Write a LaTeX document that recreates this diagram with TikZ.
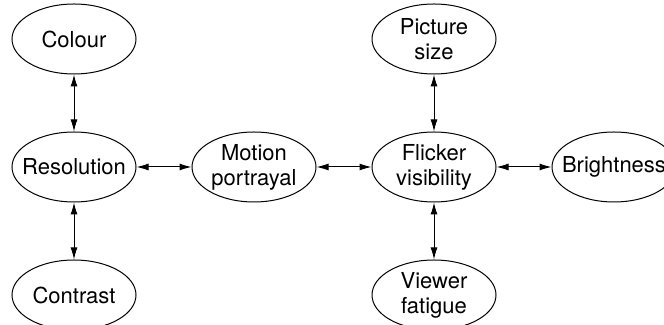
\documentclass[tikz,border=0pt]{standalone}
\usepackage{fontspec}
\setmainfont{TeX Gyre Heros}
\usepackage{tikz}
\usetikzlibrary{arrows.meta, positioning, shapes.geometric}
\tikzset{%
	factor/.style={draw, ellipse, minimum width=62pt, minimum height=35pt, inner xsep=-5pt, inner ysep=0pt,%
		align=center, line width=0.5pt, font=\fontsize{11}{12.5}\selectfont},
	link/.style={{Latex[length=6pt,width=3.5pt]}-{Latex[length=6pt,width=3.5pt]}, line width=0.5pt}
}

\begin{document}
\begin{tikzpicture}[node distance=28.5pt and 27.5pt]
		\useasboundingbox (-37pt,83.5pt) rectangle (295pt,-79pt);
		\node[factor] (res) at (0,0) {Resolution};
		\node[factor] (col) [above=of res] {Colour};
		\node[factor] (con) [below=of res] {Contrast};
		\node[factor] (mot) [right=of res] {Motion\\portrayal};
		\node[factor] (fli) [right=of mot] {Flicker\\visibility};
		\node[factor] (pic) [above=of fli] {Picture\\size};
		\node[factor] (vie) [below=of fli] {Viewer\\fatigue};
		\node[factor] (bri) [right=of fli] {Brightness};
		\draw [link] (col) to (res);
		\draw [link] (res) to (con);
		\draw [link] (res) to (mot);
		\draw [link] (mot) to (fli);
		\draw [link] (pic) to (fli);
		\draw [link] (fli) to (vie);
		\draw [link] (fli) to (bri);
	\end{tikzpicture}
\end{document}
